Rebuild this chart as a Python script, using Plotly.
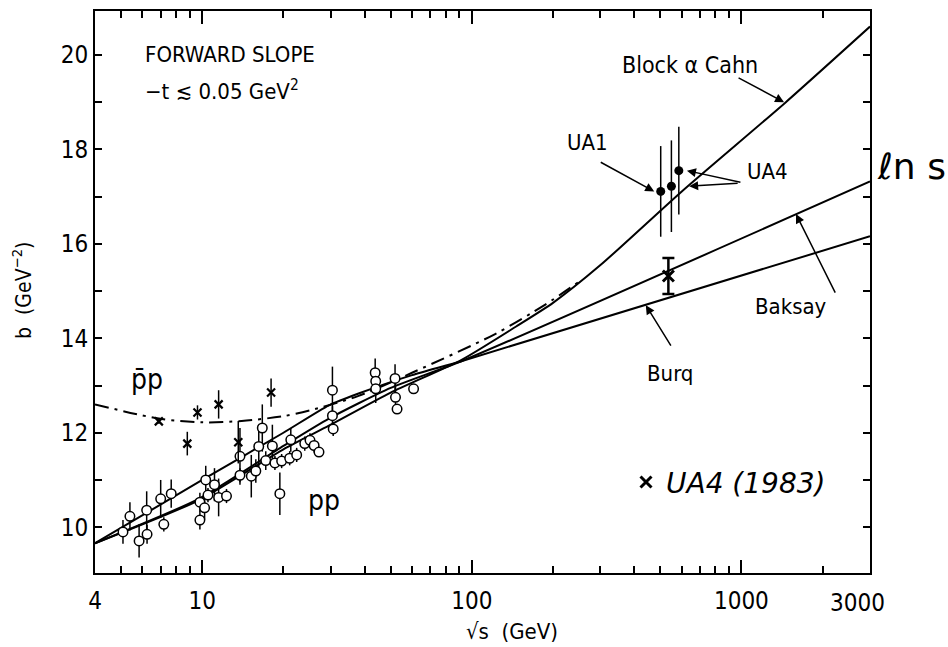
import numpy as np
import plotly.graph_objects as go

# ---- pp forward slope measurements: sqrt(s) [GeV], b [GeV^-2], error ----
pp_sqrts = [5.08, 5.39, 5.83, 6.22, 6.24, 7.01, 7.20, 7.67, 9.8, 9.8, 10.2, 10.3,
            10.5, 11.1, 11.5, 12.3, 13.8, 13.8, 15.2, 15.8, 16.2, 16.7, 17.2, 18.2,
            18.6, 19.4, 19.7, 21.3, 21.1, 22.4, 24.0, 25.1, 26.0, 27.1, 30.4, 30.4,
            30.6, 43.8, 44.0, 44.0, 51.9, 52.1, 52.8, 60.8]
pp_b = [9.90, 10.23, 9.71, 10.36, 9.85, 10.60, 10.06, 10.71, 10.15, 10.53, 10.41, 11.00,
        10.68, 10.90, 10.63, 10.66, 11.50, 11.10, 11.08, 11.19, 11.71, 12.10, 11.41, 11.72,
        11.36, 10.71, 11.40, 11.85, 11.46, 11.53, 11.77, 11.84, 11.73, 11.59, 12.90, 12.36,
        12.08, 13.27, 13.09, 12.93, 13.15, 12.75, 12.50, 12.93]
pp_err = [0.25, 0.30, 0.35, 0.40, 0.20, 0.40, 0.15, 0.30, 0.20, 0.20, 0.25, 0.30,
          0.15, 0.35, 0.40, 0.15, 0.60, 0.15, 0.45, 0.25, 0.45, 0.50, 0.20, 0.45,
          0.15, 0.45, 0.15, 0.25, 0.15, 0.15, 0.15, 0.15, 0.15, 0.10, 0.50, 0.20,
          0.15, 0.30, 0.10, 0.30, 0.30, 0.35, 0.10, 0.10]

# ---- pbar-p measurements ----
pbarp_sqrts = [6.9, 8.8, 9.6, 11.5, 13.6, 18.0]
pbarp_b = [12.24, 11.77, 12.43, 12.60, 11.80, 12.85]
pbarp_err = [0.05, 0.25, 0.15, 0.30, 0.45, 0.30]

# ---- collider points (UA1 / UA4) ----
ua_sqrts = [502, 550, 586]
ua_b = [17.11, 17.22, 17.55]
ua_err = [0.96, 0.97, 0.93]

# ---- UA4 (1983) ----
ua4_83_sqrts = [536]
ua4_83_b = [15.32]
ua4_83_err = [0.38]

# ---- model curves ----
block_pp_sqrts = [4, 9.7, 20, 29.5, 50, 92, 146, 200, 300, 601, 1462, 3000]
block_pp_b = [9.66, 10.57, 11.65, 12.15, 12.85, 13.55, 14.25, 14.75, 15.55, 17.11, 19.0, 20.6]

block_pbarp_sqrts = [4, 6.9, 10, 14, 20, 25, 38, 60, 122, 188, 250]
block_pbarp_b = [12.6, 12.3, 12.22, 12.25, 12.35, 12.47, 12.78, 13.27, 14.09, 14.72, 15.2]

baksay_sqrts = [4, 9.7, 20, 29.5, 50, 92, 3000]
baksay_b = [9.66, 10.6, 11.72, 12.3, 12.95, 13.52, 17.32]

burq_sqrts = [4, 10, 20, 29.5, 38, 60, 92, 3000]
burq_b = [9.66, 11.0, 12.0, 12.58, 12.83, 13.22, 13.52, 16.16]

x_major = [4, 10, 100, 1000]
x_major_text = ["4", "10", "100", "1000"]
x_end_label = "3000"
x_minor = [5, 6, 7, 8, 9, 20, 30, 40, 50, 60, 70, 80, 90,
           200, 300, 400, 500, 600, 700, 800, 900, 2000]
y_major = [10, 12, 14, 16, 18, 20]

FONT = "DejaVu Sans Condensed, DejaVu Sans, sans-serif"
HAND = "DejaVu Sans, sans-serif"
INK = "black"

W, H = 948, 647
ML, MR, MT, MB = 95, 78, 9, 74
PW, PH = W - ML - MR, H - MT - MB


def px(xpix):
    return (xpix - ML) / PW


def py(ypix):
    return (H - MB - ypix) / PH


fig = go.Figure()

curve = dict(color=INK, width=2, shape="spline", smoothing=0.6)
fig.add_trace(go.Scatter(x=block_pp_sqrts, y=block_pp_b, mode="lines", line=curve,
                         showlegend=False, hoverinfo="skip"))
fig.add_trace(go.Scatter(x=baksay_sqrts, y=baksay_b, mode="lines", line=curve,
                         showlegend=False, hoverinfo="skip"))
fig.add_trace(go.Scatter(x=burq_sqrts, y=burq_b, mode="lines", line=curve,
                         showlegend=False, hoverinfo="skip"))
fig.add_trace(go.Scatter(x=block_pbarp_sqrts, y=block_pbarp_b, mode="lines",
                         line=dict(color=INK, width=2, shape="spline", smoothing=0.8,
                                   dash="14px,6px,3px,6px"),
                         showlegend=False, hoverinfo="skip"))

# pp: open circles
fig.add_trace(go.Scatter(
    x=pp_sqrts, y=pp_b, mode="markers",
    error_y=dict(type="data", array=pp_err, color=INK, thickness=1.5, width=0),
    marker=dict(symbol="circle", size=9.5, color="white", line=dict(color=INK, width=1.5)),
    showlegend=False))

# pbar-p: crosses
fig.add_trace(go.Scatter(
    x=pbarp_sqrts, y=pbarp_b, mode="markers",
    error_y=dict(type="data", array=pbarp_err, color=INK, thickness=1.5, width=0),
    marker=dict(symbol="x-thin", size=8, color=INK, line=dict(color=INK, width=2.2)),
    showlegend=False))

# UA1 / UA4 collider points
fig.add_trace(go.Scatter(
    x=ua_sqrts, y=ua_b, mode="markers",
    error_y=dict(type="data", array=ua_err, color=INK, thickness=1.5, width=0),
    marker=dict(symbol="circle", size=9, color=INK),
    showlegend=False))

# UA4 (1983)
fig.add_trace(go.Scatter(
    x=ua4_83_sqrts, y=ua4_83_b, mode="markers", name="UA4 (1983)",
    error_y=dict(type="data", array=ua4_83_err, color=INK, thickness=2.5, width=6),
    marker=dict(symbol="x-thin", size=11, color=INK, line=dict(color=INK, width=3)),
    showlegend=True))

ann = []


def text(xpix, ypix, s, size=20, family=FONT, xanchor="center", style="normal", angle=0):
    ann.append(dict(x=px(xpix), y=py(ypix), xref="paper", yref="paper", text=s,
                    showarrow=False, xanchor=xanchor, yanchor="middle", textangle=angle,
                    font=dict(family=family, size=size, color=INK, style=style)))


def arrow(sq, b, ax, ay):
    ann.append(dict(x=np.log10(sq), y=b, xref="x", yref="y", text="", showarrow=True,
                    ax=ax, ay=ay, axref="pixel", ayref="pixel", arrowhead=2,
                    arrowsize=1.2, arrowwidth=1.5, arrowcolor=INK))


text(143, 53, "FORWARD SLOPE", size=22, xanchor="left")
text(143, 88, "−t ≲ 0.05 GeV<sup>2</sup>", size=22, xanchor="left")
text(147, 379, "p̄p", size=28)
text(324, 500, "pp", size=28)
text(690, 63, "Block α Cahn", size=23)
text(587, 141, "UA1", size=22)
text(767, 170, "UA4", size=22)
text(791, 306, "Baksay", size=22)
text(670, 373, "Burq", size=22)
text(911, 165, "ℓn s", size=36, family=HAND)
text(512, 632, "√s  (GeV)", size=22)
text(22, 290, "b  (GeV<sup>−2</sup>)", size=21, angle=-90)
text(857, 603, x_end_label, size=24)

arrow(1440, 19.0, -47, -25)
arrow(475, 17.11, -55, -30)
arrow(628, 17.55, 55, 12)
arrow(640, 17.22, 50, -3)
arrow(1594, 16.63, 40, 80)
arrow(442, 14.70, 26, 42)

fig.update_layout(
    width=W, height=H,
    margin=dict(l=ML, r=MR, t=MT, b=MB),
    paper_bgcolor="white", plot_bgcolor="white",
    font=dict(family=FONT, color=INK, size=24),
    annotations=ann,
    legend=dict(x=px(626), y=py(482), xanchor="left", yanchor="middle",
                bgcolor="rgba(0,0,0,0)", borderwidth=0, itemwidth=30,
                font=dict(family=HAND, size=28, color=INK, style="italic")),
)

fig.update_xaxes(
    type="log", range=[np.log10(4), np.log10(3000)],
    tickvals=x_major, ticktext=x_major_text,
    ticks="inside", ticklen=13, tickwidth=1.5, tickcolor=INK,
    ticklabelstandoff=5,
    tickfont=dict(family=FONT, size=24, color=INK),
    minor=dict(tickvals=x_minor, ticks="inside", ticklen=7, tickwidth=1.5, tickcolor=INK),
    showline=True, linewidth=1.8, linecolor=INK, mirror="allticks",
    showgrid=False, zeroline=False,
)
fig.update_yaxes(
    range=[9.03, 20.93],
    tickvals=y_major,
    ticks="inside", ticklen=7, tickwidth=1.5, tickcolor=INK,
    tickfont=dict(family=FONT, size=24, color=INK),
    minor=dict(dtick=1, ticks="inside", ticklen=7, tickwidth=1.5, tickcolor=INK),
    showline=True, linewidth=1.8, linecolor=INK, mirror="allticks",
    showgrid=False, zeroline=False,
)

fig.write_html("out.html")
